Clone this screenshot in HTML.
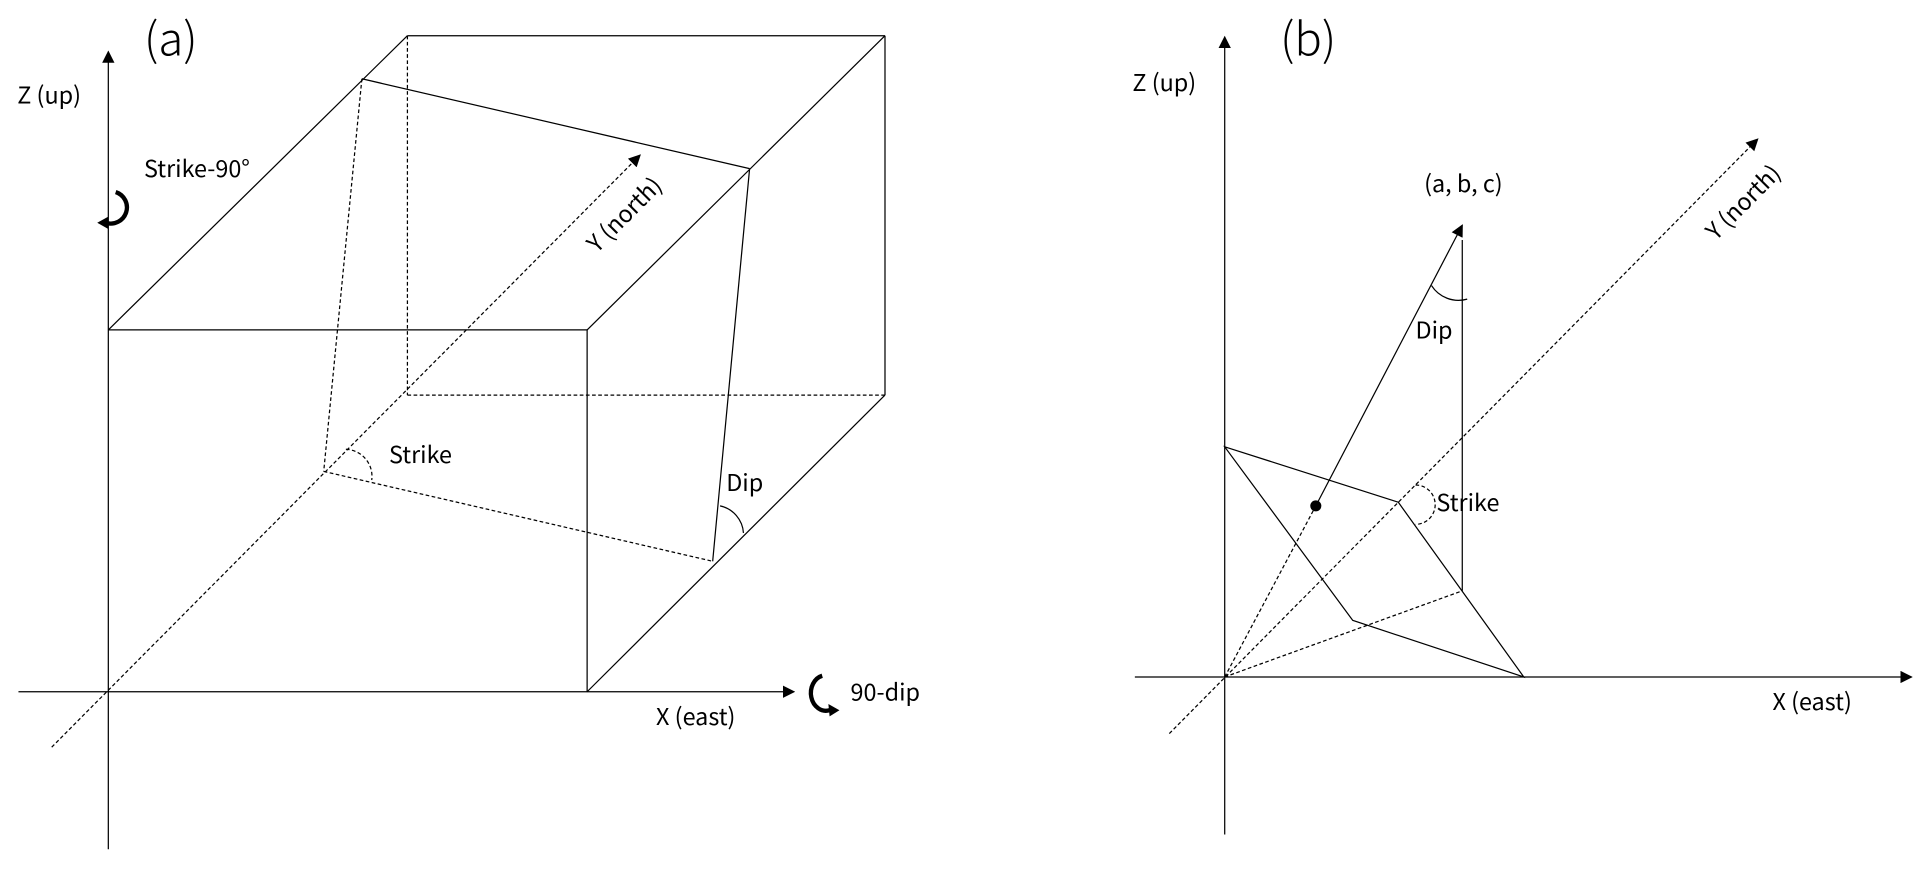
<!DOCTYPE html>
<html><head><meta charset="utf-8"><style>
html,body{margin:0;padding:0;background:#fff;width:1930px;height:869px;overflow:hidden}
svg{display:block}
text{font-family:"Noto Sans CJK SC","Liberation Sans",sans-serif;fill:#000}
</style></head><body>
<svg width="1930" height="869" viewBox="0 0 1568 706" xmlns="http://www.w3.org/2000/svg">
<defs>
<marker id="ar" markerWidth="10" markerHeight="10" refX="9" refY="5" orient="auto" markerUnits="userSpaceOnUse"><path d="M0,0 L10,5 L0,10z" fill="#000"/></marker>
</defs>
<g stroke="#000" stroke-width="1" fill="none">
<line x1="88" y1="690" x2="88" y2="42" marker-end="url(#ar)"/>
<line x1="15" y1="562" x2="645" y2="562" marker-end="url(#ar)"/>
<line x1="42" y1="607" x2="520" y2="126" stroke-dasharray="3,2" marker-end="url(#ar)"/>
<polyline points="88,268 477,268 477,562"/>
<line x1="88" y1="268" x2="331" y2="29"/>
<line x1="331" y1="29" x2="719" y2="29"/>
<line x1="477" y1="268" x2="719" y2="29"/>
<line x1="719" y1="29" x2="719" y2="321"/>
<line x1="477" y1="562" x2="719" y2="321"/>
<line x1="331" y1="29" x2="331" y2="321" stroke-dasharray="3,2"/>
<line x1="331" y1="321" x2="719" y2="321" stroke-dasharray="3,2"/>
<line x1="294" y1="64" x2="609" y2="137"/>
<line x1="609" y1="137" x2="579" y2="456"/>
<line x1="294" y1="64" x2="263" y2="383" stroke-dasharray="3,2"/>
<line x1="263" y1="383" x2="579" y2="456" stroke-dasharray="3,2"/>
<path d="M281,365 A22,22 0 0 1 302,390" stroke-dasharray="3,2"/>
<path d="M585,411 A24,24 0 0 1 604,433"/>
<path d="M94,156 A12,12 0 0 1 86,181" stroke-width="3.5"/>
<path d="M88,176 l-9,5 l9,5z" fill="#000" stroke="none"/>
<path d="M668,549 A11,13 0 0 0 674,577" stroke-width="3.5"/>
<path d="M673,572 l9,5 l-8,5z" fill="#000" stroke="none"/>
<line x1="995" y1="678" x2="995" y2="30" marker-end="url(#ar)"/>
<line x1="922" y1="550" x2="1553" y2="550" marker-end="url(#ar)"/>
<line x1="950" y1="596" x2="1428" y2="113" stroke-dasharray="3,2" marker-end="url(#ar)"/>
<polygon points="995,363 1136,408 1238,550 1099,504"/>
<line x1="1188" y1="195" x2="1188" y2="480"/>
<line x1="995" y1="550" x2="1188" y2="480" stroke-dasharray="3,2"/>
<line x1="995" y1="550" x2="1069" y2="411" stroke-dasharray="3,2"/>
<line x1="1069" y1="411" x2="1188" y2="183" marker-end="url(#ar)"/>
<path d="M1163,232 A26,26 0 0 0 1192,243"/>
<path d="M1150,394 A16,16 0 0 1 1150,426" stroke-dasharray="3,2"/>
</g>
<circle cx="1069" cy="411" r="4.5" fill="#000"/>
<text x="117" y="45" font-size="37" font-weight="300">(a)</text>
<text x="14" y="84" font-size="19">Z (up)</text>
<text x="117" y="144" font-size="19">Strike-90°</text>
<text x="316" y="376" font-size="19">Strike</text>
<text x="590" y="399" font-size="19">Dip</text>
<text x="533" y="589" font-size="19">X (east)</text>
<text x="691" y="569" font-size="19">90-dip</text>
<text font-size="19" transform="translate(485,206) rotate(-45)">Y (north)</text>
<text x="1040" y="45" font-size="37" font-weight="300">(b)</text>
<text x="920" y="74" font-size="19">Z (up)</text>
<text x="1157" y="156" font-size="19">(a, b, c)</text>
<text x="1150" y="275" font-size="19">Dip</text>
<text x="1167" y="415" font-size="19">Strike</text>
<text x="1440" y="577" font-size="19">X (east)</text>
<text font-size="19" transform="translate(1394,196) rotate(-45)">Y (north)</text>
</svg>
</body></html>
